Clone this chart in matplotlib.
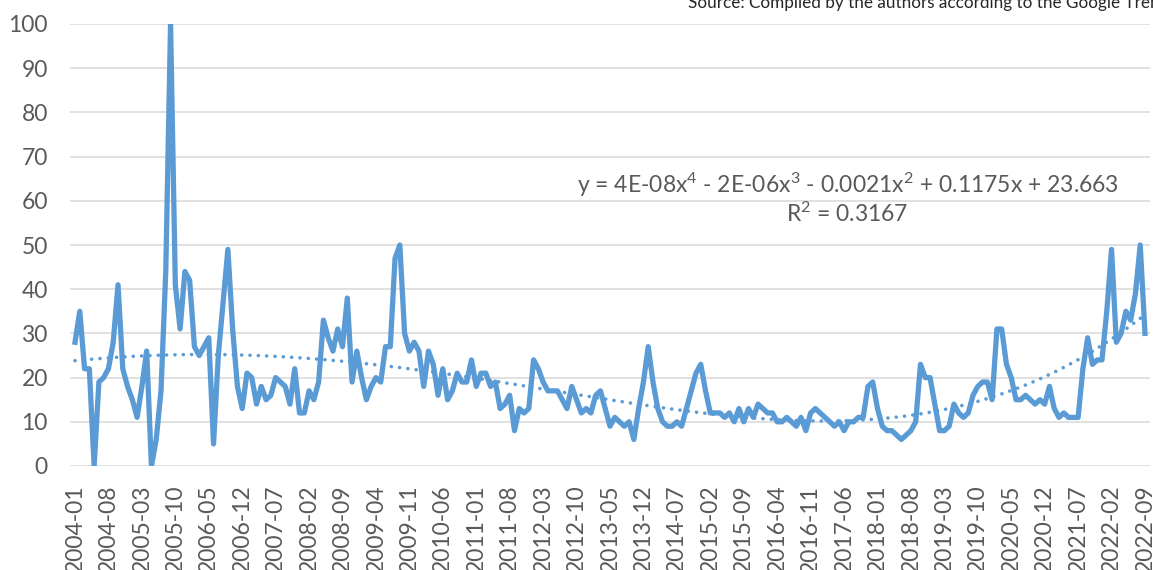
import numpy as np
import pandas as pd
import matplotlib.pyplot as plt

# Monthly search interest, 2004-01 .. 2022-09 (one row per year)
values = [
    28, 35, 22, 22, 0, 19, 20, 22, 28, 41, 22, 18,      # 2004
    15, 11, 18, 26, 0, 6, 17, 44, 100, 41, 31, 44,      # 2005
    42, 27, 25, 27, 29, 5, 25, 37, 49, 31, 18, 13,      # 2006
    21, 20, 14, 18, 15, 16, 20, 19, 18, 14, 22, 12,     # 2007
    12, 17, 15, 19, 33, 29, 26, 31, 27, 38, 19, 26,     # 2008
    20, 15, 18, 20, 19, 27, 27, 47, 50, 30, 26, 28,     # 2009
    26, 18, 26, 23, 16, 22, 15, 17, 21, 19, 19, 24,     # 2010
    18, 21, 21, 18, 19, 13, 14, 16, 8, 13, 12, 13,      # 2011
    24, 22, 19, 17, 17, 17, 15, 13, 18, 15, 12, 13,     # 2012
    12, 16, 17, 13, 9, 11, 10, 9, 10, 6, 13, 19,        # 2013
    27, 19, 13, 10, 9, 9, 10, 9, 13, 17, 21, 23,        # 2014
    17, 12, 12, 12, 11, 12, 10, 13, 10, 13, 11, 14,     # 2015
    13, 12, 12, 10, 10, 11, 10, 9, 11, 8, 12, 13,       # 2016
    12, 11, 10, 9, 10, 8, 10, 10, 11, 11, 18, 19,       # 2017
    13, 9, 8, 8, 7, 6, 7, 8, 10, 23, 20, 20,            # 2018
    14, 8, 8, 9, 14, 12, 11, 12, 16, 18, 19, 19,        # 2019
    15, 31, 31, 23, 20, 15, 15, 16, 15, 14, 15, 14,     # 2020
    18, 13, 11, 12, 11, 11, 11, 22, 29, 23, 24, 24,     # 2021
    35, 49, 28, 30, 35, 33, 39, 50, 30,                 # 2022
]
months = pd.period_range('2004-01', '2022-09', freq='M').strftime('%Y-%m').tolist()
y_ticks = [0, 10, 20, 30, 40, 50, 60, 70, 80, 90, 100]
equation = 'y = 4E-08x$^{4}$ - 2E-06x$^{3}$ - 0.0021x$^{2}$ + 0.1175x + 23.663'
r_squared = 'R$^{2}$ = 0.3167'
source = 'Source: Compiled by the authors according to the Google Trends'

blue = '#5B9BD5'
grey = '#595959'
plt.rcParams['font.family'] = ['Lato', 'DejaVu Sans']
plt.rcParams['mathtext.default'] = 'regular'

fig = plt.figure(figsize=(11.53, 5.70), dpi=100)
ax = fig.add_axes([70 / 1153, 104 / 570, 1080 / 1153, 442 / 570])

x = np.arange(len(values))
ax.plot(x, values, color=blue, lw=3.8, solid_joinstyle='round', zorder=3)

# 4th order polynomial trendline (Excel style, x = 1..n)
coef = np.polyfit(x + 1, values, 4)
ax.plot(x, np.polyval(coef, x + 1), color=blue, lw=2.6,
        linestyle=(0, (0.01, 2.3)), dash_capstyle='round', zorder=2)

ax.set_xlim(-1.05, len(values) - 1 + 1.05)
ax.set_ylim(0, 100)
ax.set_yticks(y_ticks)
ax.set_xticks(x[::7])
ax.set_xticklabels(months[::7], rotation=90)
ax.tick_params(axis='y', length=0, pad=16, labelsize=16.5, labelcolor=grey)
ax.tick_params(axis='x', length=0, pad=13.5, labelsize=16.5, labelcolor=grey)
ax.grid(axis='y', color='#D9D9D9', lw=1.1)
ax.set_axisbelow(True)
for s in ax.spines.values():
    s.set_visible(False)

ax.text(0.72, 0.618, equation, transform=ax.transAxes, ha='center',
        va='baseline', fontsize=16.5, color=grey)
ax.text(0.72, 0.552, r_squared, transform=ax.transAxes, ha='center',
        va='baseline', fontsize=16.5, color=grey)

fig.text(688 / 1153, 1 - 8 / 570, source, ha='left', va='baseline',
         fontsize=12.3, color='#262626')

fig.savefig('out.png', dpi=100)
